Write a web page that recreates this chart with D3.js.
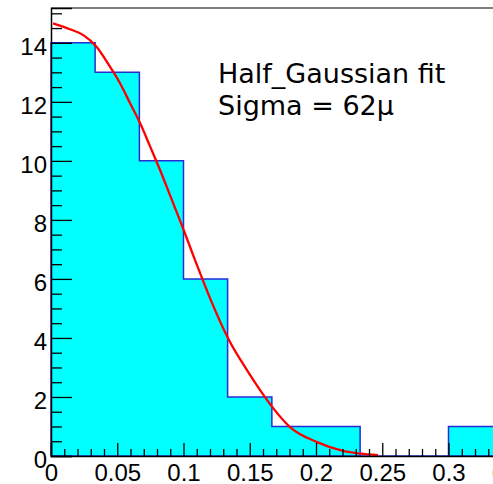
<!DOCTYPE html>
<html>
<head>
<meta charset="utf-8">
<script src="https://cdn.jsdelivr.net/npm/d3@7"></script>
<style>
  body { margin: 0; background: #fff; }
  svg { display: block; }
</style>
</head>
<body>
<div id="chart"></div>
<script>
// histogram bins (lower/upper edges) and counts
const binStart = [0, 0.0333, 0.0667, 0.1, 0.1333, 0.1667, 0.2, 0.2333, 0.2667, 0.3, 0.3333];
const binEnd   = [0.0333, 0.0667, 0.1, 0.1333, 0.1667, 0.2, 0.2333, 0.2667, 0.3, 0.3333, 0.3667];
const counts   = [14, 13, 10, 6, 2, 1, 1, 0, 0, 1, 1];

// fitted half gaussian
const fitX = [0.0015, 0.0143, 0.0244, 0.0345, 0.0445, 0.0521, 0.0596, 0.0672, 0.0747, 0.0823,
              0.0898, 0.0996, 0.1087, 0.12, 0.1343, 0.1479, 0.1577, 0.1675, 0.1804, 0.2008,
              0.2204, 0.2332, 0.2468];
const fitY = [14.66, 14.46, 14.26, 13.86, 13.19, 12.63, 11.96, 11.28, 10.5, 9.69,
              8.84, 7.72, 6.64, 5.35, 3.93, 2.91, 2.24, 1.63, 0.98, 0.47,
              0.17, 0.08, 0.03];

const xMajor = [0, 0.05, 0.1, 0.15, 0.2, 0.25, 0.3, 0.35, 0.4];
const yMajor = [0, 2, 4, 6, 8, 10, 12, 14];

const width = 493, height = 484;

const svg = d3.select("#chart").append("svg")
    .attr("width", width)
    .attr("height", height);

const x = d3.scaleLinear().domain([0, 0.4]).range([51, 581]);
const y = d3.scaleLinear().domain([0, 15.18]).range([456, 8]);

// histogram as one step outline
let d = `M${x(binStart[0])},${y(0)}`;
counts.forEach((c, i) => {
    d += `V${y(c)}H${x(binEnd[i])}`;
});
d += `V${y(0)}Z`;

svg.append("path")
    .attr("d", d)
    .attr("fill", "#00ffff")
    .attr("stroke", "#2b2bd6")
    .attr("stroke-width", 1.5);

// fit curve
const line = d3.line()
    .x((v, i) => x(fitX[i]))
    .y((v, i) => y(fitY[i]))
    .curve(d3.curveMonotoneX);

svg.append("path")
    .datum(fitY)
    .attr("d", line)
    .attr("fill", "none")
    .attr("stroke", "#ff0000")
    .attr("stroke-width", 2.3);

// top frame line
svg.append("line")
    .attr("x1", x(0)).attr("x2", width)
    .attr("y1", y(15.18)).attr("y2", y(15.18))
    .attr("stroke", "#555")
    .attr("stroke-width", 1.3);

// minor ticks
const yMinor = d3.range(0, 15.01, 0.5).filter(v => v % 2 !== 0);
const xMinor = d3.range(0, 0.4, 0.01).filter(v => Math.abs(v / 0.05 - Math.round(v / 0.05)) > 1e-6);

svg.append("g")
    .attr("transform", `translate(${x(0)},0)`)
    .call(d3.axisLeft(y).tickValues(yMinor).tickSize(-11).tickFormat(""))
    .call(g => g.select(".domain").remove())
    .selectAll("line").attr("stroke", "#000").attr("stroke-width", 1.3);

svg.append("g")
    .attr("transform", `translate(0,${y(0)})`)
    .call(d3.axisBottom(x).tickValues(xMinor).tickSize(-7).tickFormat(""))
    .call(g => g.select(".domain").remove())
    .selectAll("line").attr("stroke", "#000").attr("stroke-width", 1.3);

// major axes
const yAxis = svg.append("g")
    .attr("transform", `translate(${x(0)},0)`)
    .call(d3.axisLeft(y).tickValues(yMajor).tickSize(-21).tickPadding(4).tickFormat(d3.format("d")));

const xAxis = svg.append("g")
    .attr("transform", `translate(0,${y(0)})`)
    .call(d3.axisBottom(x).tickValues(xMajor).tickSize(-13).tickFormat(v => String(+v.toFixed(2))));

[yAxis, xAxis].forEach(g => {
    g.select(".domain").attr("stroke", "#000").attr("stroke-width", 1.5);
    g.selectAll("line").attr("stroke", "#000").attr("stroke-width", 1.3);
    g.selectAll("text")
        .attr("fill", "#000")
        .style("font-family", "'Liberation Sans', Arial, sans-serif")
        .style("font-size", "24px");
});

yAxis.selectAll("text").attr("dy", null).attr("y", 11.5);
xAxis.selectAll("text").attr("dy", null).attr("y", 24.5);

// fit label
const label = svg.append("g")
    .style("font-family", "'DejaVu Sans', sans-serif")
    .style("font-size", "27px")
    .attr("fill", "#000");

label.append("text").attr("x", 218).attr("y", 83).text("Half_Gaussian fit");
label.append("text").attr("x", 218).attr("y", 115).text("Sigma = 62μ");
</script>
</body>
</html>
